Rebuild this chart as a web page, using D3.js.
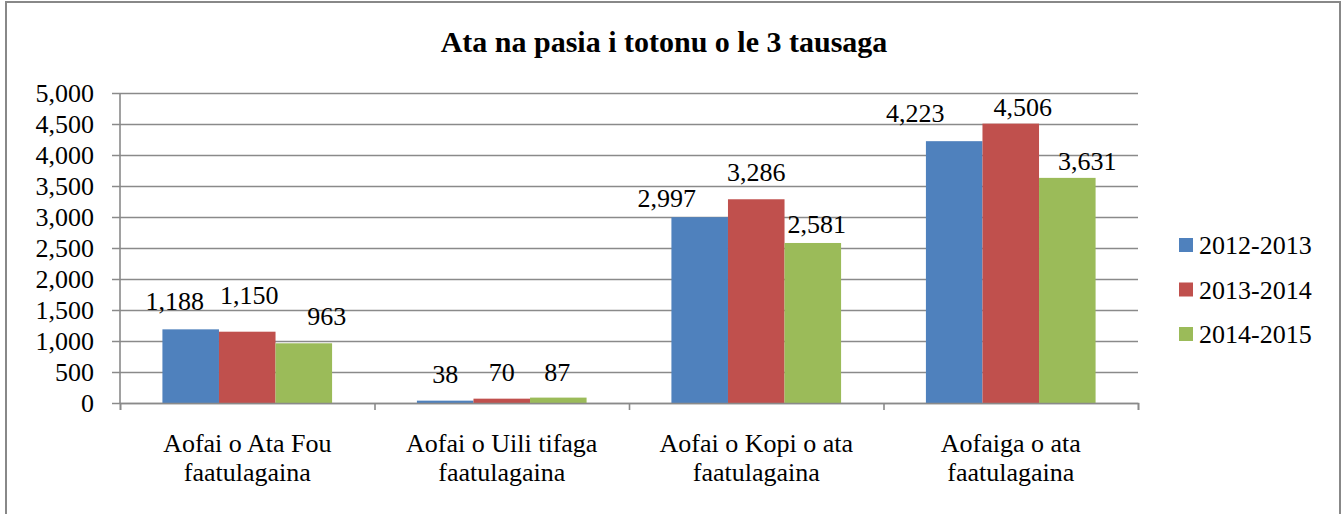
<!DOCTYPE html>
<html>
<head>
<meta charset="utf-8">
<script src="https://cdn.jsdelivr.net/npm/d3@7"></script>
</head>
<body style="margin:0">
<script>
// Chart data
var categories = ["Aofai o Ata Fou\nfaatulagaina", "Aofai o Uili tifaga\nfaatulagaina", "Aofai o Kopi o ata\nfaatulagaina", "Aofaiga o ata\nfaatulagaina"];
var seriesNames = ["2012-2013", "2013-2014", "2014-2015"];
var values2012 = [1188, 38, 2997, 4223];
var values2013 = [1150, 70, 3286, 4506];
var values2014 = [963, 87, 2581, 3631];
var yTicks = [0, 500, 1000, 1500, 2000, 2500, 3000, 3500, 4000, 4500, 5000];
var titleText = "Ata na pasia i totonu o le 3 tausaga";

var colors = ["#4F81BD", "#C0504D", "#9BBB59"];
var FONT = "Liberation Serif";

// label nudges (dx, gap above bar) per category / series, like Excel's overlap shuffle
var labelNudge = [
  [[-16, 19], [2, 28], [23, 18]],
  [[0, 18], [0, 18], [-1, 17]],
  [[-33, 10], [0, 18], [4, 10]],
  [[-39, 19], [12, 8], [20, 8]]
];

var svgWidth = 1341;
var svgHeight = 514;

var Margin = { top: 93, left: 120, right: 203, bottom: 111 };
var width = svgWidth - Margin.left - Margin.right;
var height = svgHeight - Margin.top - Margin.bottom;

var svg = d3.select("body")
  .append("svg")
  .attr("width", svgWidth)
  .attr("height", svgHeight);

// outer frame
svg.append("rect")
  .attr("x", 6)
  .attr("y", 2)
  .attr("width", 1334)
  .attr("height", 520)
  .attr("fill", "#fff")
  .attr("stroke", "#888")
  .attr("stroke-width", 2);

// title
svg.append("text")
  .attr("x", 664)
  .attr("y", 52)
  .attr("text-anchor", "middle")
  .attr("font-family", FONT)
  .attr("font-size", "30px")
  .attr("font-weight", "bold")
  .text(titleText);

var chartGroup = svg.append("g")
  .attr("transform", `translate(${Margin.left}, ${Margin.top})`);

var table = categories.map(function(c, i) {
  return { cat: c, vals: [values2012[i], values2013[i], values2014[i]] };
});

// scales
var x0 = d3.scaleBand().domain(categories).range([0, width]).padding(0);
var x1 = d3.scaleBand().domain(seriesNames).range([0, x0.bandwidth()])
  .paddingInner(0).paddingOuter(0.75);
var yScale = d3.scaleLinear().domain([0, 5000]).range([height, 0]);

// gridlines with outer ticks
var leftAxis = d3.axisLeft(yScale).tickValues(yTicks).tickSize(width + 8)
  .tickFormat(d3.format(","));
var yAxisG = chartGroup.append("g")
  .attr("transform", `translate(${width}, 0)`)
  .call(leftAxis)
  .attr("font-family", FONT)
  .attr("font-size", "26px");
yAxisG.select(".domain").remove();
yAxisG.selectAll(".tick line").attr("stroke", "#8a8a8a").attr("stroke-width", 1.3);
yAxisG.selectAll(".tick text")
  .attr("x", -width - 26)
  .attr("dy", "0.33em")
  .attr("fill", "#000");

// y axis line
chartGroup.append("line")
  .attr("x1", 0).attr("x2", 0)
  .attr("y1", 0).attr("y2", height)
  .attr("stroke", "#8a8a8a").attr("stroke-width", 1.6);

// bars
var groups = chartGroup.selectAll(".cat")
  .data(table)
  .enter()
  .append("g")
  .attr("transform", d => `translate(${x0(d.cat)}, 0)`);

groups.selectAll("rect")
  .data(d => d.vals.map((v, j) => ({ v: v, s: seriesNames[j], j: j })))
  .enter()
  .append("rect")
  .attr("x", d => x1(d.s))
  .attr("y", d => yScale(d.v))
  .attr("width", x1.bandwidth())
  .attr("height", d => height - yScale(d.v))
  .attr("fill", d => colors[d.j]);

// x axis
var bottomAxis = d3.axisBottom(d3.scaleLinear().domain([0, 4]).range([0, width]))
  .ticks(4).tickSize(7).tickFormat("");
var xAxisG = chartGroup.append("g")
  .attr("transform", `translate(0, ${height})`)
  .call(bottomAxis);
xAxisG.select(".domain").attr("stroke", "#8a8a8a").attr("stroke-width", 1.6);
xAxisG.selectAll(".tick line").attr("stroke", "#8a8a8a").attr("stroke-width", 1.6);

// data labels
groups.each(function(d, i) {
  d3.select(this).selectAll(".lbl")
    .data(d.vals)
    .enter()
    .append("text")
    .attr("text-anchor", "middle")
    .attr("font-family", FONT)
    .attr("font-size", "26px")
    .attr("x", (v, j) => x1(seriesNames[j]) + x1.bandwidth() / 2 + labelNudge[i][j][0])
    .attr("y", (v, j) => yScale(v) - labelNudge[i][j][1])
    .text(v => d3.format(",")(v));
});

// category labels
chartGroup.selectAll(".catlbl")
  .data(categories)
  .enter()
  .append("text")
  .attr("text-anchor", "middle")
  .attr("font-family", FONT)
  .attr("font-size", "26px")
  .attr("transform", d => `translate(${x0(d) + x0.bandwidth() / 2}, ${height + 49})`)
  .selectAll("tspan")
  .data(d => d.split("\n"))
  .enter()
  .append("tspan")
  .attr("x", 0)
  .attr("dy", (t, k) => k === 0 ? 0 : 28.5)
  .text(t => t);

// legend
var legend = svg.append("g").attr("transform", "translate(1179, 254)");
var items = legend.selectAll("g")
  .data(seriesNames)
  .enter()
  .append("g")
  .attr("transform", (d, i) => `translate(0, ${i * 44.5})`);
items.append("rect")
  .attr("x", 0).attr("y", -16)
  .attr("width", 14).attr("height", 14)
  .attr("fill", (d, i) => colors[i]);
items.append("text")
  .attr("x", 20)
  .attr("y", 0)
  .attr("font-family", FONT)
  .attr("font-size", "26px")
  .text(d => d);
</script>
</body>
</html>
